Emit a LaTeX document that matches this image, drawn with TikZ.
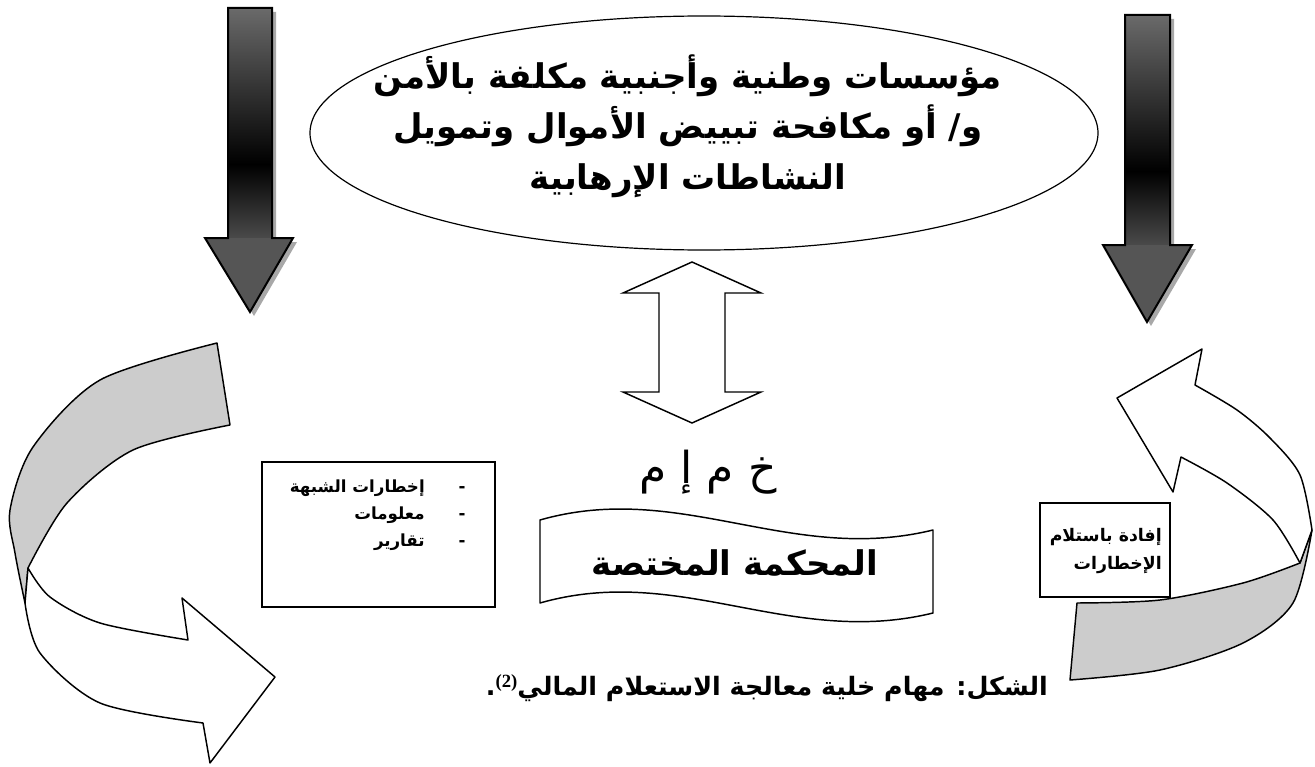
\documentclass[tikz,border=0pt]{standalone}
\usepackage{fontspec}
\setmainfont{Liberation Serif}
\newfontfamily\arabicfont[Script=Arabic]{DejaVu Sans}
\TeXXeTstate=1
\usetikzlibrary{shapes.geometric}
\definecolor{shaftA}{HTML}{6A6A6A}
\definecolor{shaftB}{HTML}{4A4A4A}
\definecolor{headgray}{HTML}{555555}
\definecolor{shadowgray}{HTML}{A8A8A8}
\definecolor{bandgray}{HTML}{CCCCCC}
\pgfdeclareverticalshading{darkshaft}{100bp}{color(0bp)=(shaftB); color(25bp)=(shaftB); color(41bp)=(black); color(75bp)=(shaftA); color(100bp)=(shaftA)}
% #1 xl, #2 xr, #3 ytop, #4 ybase, #5 head left, #6 head right, #7 tip x, #8 tip y
\newcommand\dkarrow[8]{%
  \fill[shadowgray,shift={(4,4)}] (#1,#3) -- (#2,#3) -- (#2,#4) -- (#6,#4) -- (#7,#8) -- (#5,#4) -- (#1,#4) -- cycle;
  \shade[shading=darkshaft] (#1,#3) rectangle (#2,#4);
  \fill[headgray] (#1,#4) -- (#6,#4) -- (#7,#8) -- (#5,#4) -- cycle;
  \draw[line width=1.5pt, line join=miter] (#1,#3) -- (#2,#3) -- (#2,#4) -- (#6,#4) -- (#7,#8) -- (#5,#4) -- (#1,#4) -- cycle;
}
\tikzset{
  outline/.style={draw=black, line width=1.1pt, line join=round},
  bigtext/.style={font={\arabicfont\bfseries\fontsize{25.5pt}{38pt}\selectfont}, align=center, inner sep=0pt},
  smalltext/.style={font={\arabicfont\bfseries\fontsize{12.5pt}{15pt}\selectfont}, inner sep=0pt},
}
\begin{document}
\begin{tikzpicture}[x=0.75pt,y=-0.75pt]
\useasboundingbox (0,0) rectangle (1315,767);
\fill[white] (0,0) rectangle (1315,767);

% dark downward arrows
\dkarrow{228}{272}{8}{238}{205}{293}{250}{312}
\dkarrow{1125}{1170}{15}{245}{1103}{1192}{1147}{322}

% ellipse
\draw[line width=0.9pt] (704,133) ellipse [x radius=295.5pt, y radius=87.75pt];
\node[bigtext] (etext) at (688,126) {\beginR مؤسسات وطنية وأجنبية مكلفة بالأمن\endR\\ \beginR و/ أو مكافحة تبييض الأموال وتمويل\endR\\ \beginR النشاطات الإرهابية\endR};

% double arrow
\draw[outline, line join=miter] (692,262) -- (761,293) -- (725,293) -- (725,392) -- (761,392) -- (692,423) -- (623,392) -- (659,392) -- (659,293) -- (623,293) -- cycle;

% abbreviation
\node[font={\arabicfont\fontsize{33pt}{38pt}\selectfont}, inner sep=0pt] (abbr) at (708,472) {\beginR خ م إ م\endR};

% wave shape
\draw[outline, fill=white] (540,520) .. controls (680,480) and (790,565) .. (933,530) -- (933,613) .. controls (790,648) and (680,563) .. (540,603) -- cycle;
\node[font={\arabicfont\bfseries\fontsize{25.5pt}{30pt}\selectfont}, inner sep=0pt] (court) at (735,563) {\beginR المحكمة المختصة\endR};

% left box
\draw[line width=1pt] (262,462) rectangle (495,607);
\node[smalltext, anchor=east] (l1) at (425,488) {\beginR إخطارات الشبهة\endR};
\node[smalltext, anchor=east] (l2) at (425,515) {\beginR معلومات\endR};
\node[smalltext, anchor=east] (l3) at (425,542) {\beginR تقارير\endR};
\node[smalltext] (d1) at (462,490) {-};
\node[smalltext] (d2) at (462,517) {-};
\node[smalltext] (d3) at (462,544) {-};

% right box
\draw[line width=1pt] (1040,503) rectangle (1170,597);
\node[smalltext, font={\arabicfont\bfseries\fontsize{13pt}{15pt}\selectfont}, anchor=east] (r1) at (1162,537) {\beginR إفادة باستلام\endR};
\node[smalltext, font={\arabicfont\bfseries\fontsize{13pt}{15pt}\selectfont}, anchor=east] (r2) at (1162,565) {\beginR الإخطارات\endR};

% left curved arrow: grey back band
\filldraw[outline, fill=bandgray] (217,343) -- (230,425) -- plot[smooth] coordinates {(230,425) (133,450) (67,503) (28,568)} -- (25,603) -- plot[smooth] coordinates {(25,603) (15,553) (10,510) (33,447) (100,380) (217,343)} -- cycle;
% left curved arrow: white front band with head
\filldraw[outline, fill=white] (28,568) -- plot[smooth] coordinates {(28,568) (50,597) (100,623) (188,640)} -- (182,598) -- (275,677) -- (210,763) -- (203,723) -- plot[smooth] coordinates {(203,723) (100,703) (40,653) (25,603)} -- cycle;

% right curved arrow: grey back band
\filldraw[outline, fill=bandgray] (1077,603) -- (1070,680) -- plot[smooth] coordinates {(1070,680) (1160,670) (1243,643) (1293,603) (1312,530)} -- (1300,563) -- plot[smooth] coordinates {(1300,563) (1243,583) (1160,600) (1077,603)} -- cycle;
% right curved arrow: white front band with head
\filldraw[outline, fill=white] (1195,385) -- (1202,349) -- (1117,398) -- (1173,492) -- (1181,457) -- plot[smooth] coordinates {(1181,457) (1227,483) (1273,520) (1300,563)} -- (1312,530) -- plot[smooth] coordinates {(1312,530) (1300,475) (1270,438) (1237,410) (1195,385)} -- cycle;

% caption
\node[font={\arabicfont\bfseries\fontsize{19pt}{22pt}\selectfont}, inner sep=0pt] (cap) at (767,688) {\beginR الشكل: مهام خلية معالجة الاستعلام المالي\beginL\raisebox{0.55ex}{\rmfamily\bfseries\fontsize{14pt}{14pt}\selectfont(2)}\endL.\endR};
\end{tikzpicture}
\end{document}
